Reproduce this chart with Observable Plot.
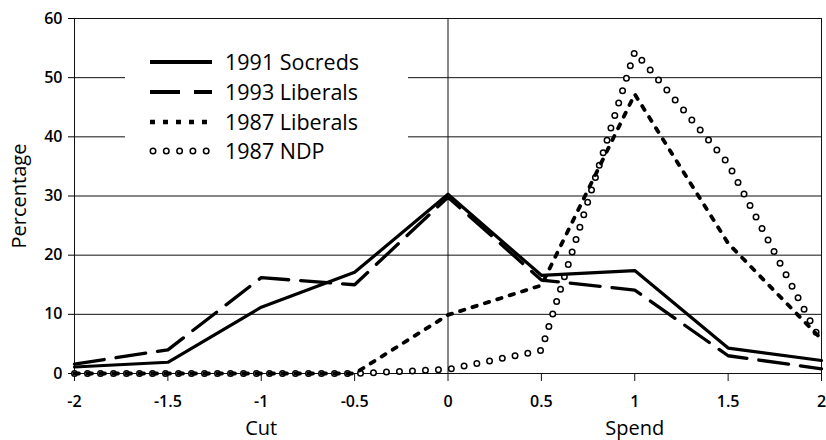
<!DOCTYPE html>
<html><head><meta charset="utf-8">
<script src="https://cdn.jsdelivr.net/npm/d3@7"></script>
<script src="https://cdn.jsdelivr.net/npm/@observablehq/plot@0.6"></script>
<style>
body{margin:0;background:#fff;}
#chart{position:relative;width:826px;height:440px;font-family:"Open Sans",sans-serif;}
#legend{position:absolute;left:125px;top:40px;}
#chart g[aria-label="x-axis tick label"] text, #chart g[aria-label="y-axis tick label"] text{font-size:16px;font-weight:600;}
</style></head>
<body><div id="chart"></div>
<script>
// ---- data ----
const positions = [-2, -1.5, -1, -0.5, 0, 0.5, 1, 1.5, 2];
const socreds1991 = [1.1, 1.9, 11.2, 17.1, 30.3, 16.6, 17.4, 4.3, 2.2];
const liberals1993 = [1.6, 4.0, 16.2, 15.0, 29.8, 15.8, 14.1, 3.0, 0.8];
const liberals1987 = [0, 0, 0, 0, 9.9, 14.9, 47.2, 22.0, 5.8];
const ndp1987 = [0, 0, 0, 0, 0.7, 3.9, 54.4, 35.5, 5.2];
const seriesNames = ["1991 Socreds", "1993 Liberals", "1987 Liberals", "1987 NDP"];
const xTicks = [-2, -1.5, -1, -0.5, 0, 0.5, 1, 1.5, 2];
const xTickLabels = ["-2", "-1.5", "-1", "-0.5", "0", "0.5", "1", "1.5", "2"];
const yTicks = [0, 10, 20, 30, 40, 50, 60];
const yTickLabels = ["0", "10", "20", "30", "40", "50", "60"];
const axisTitles = [{x: -1, label: "Cut"}, {x: 1, label: "Spend"}];
const yTitle = "Percentage";

const toRows = vals => positions.map((p, i) => ({x: p, y: vals[i]}));
const s1 = toRows(socreds1991), s2 = toRows(liberals1993), s3 = toRows(liberals1987), s4 = toRows(ndp1987);

const chart = Plot.plot({
  width: 826, height: 440,
  marginLeft: 74, marginRight: 5, marginTop: 18, marginBottom: 67,
  x: {domain: [-2, 2]},
  y: {domain: [0, 60]},
  style: {fontFamily: "'Open Sans', sans-serif", color: "#000", background: "#fff", overflow: "visible"},
  marks: [
    Plot.ruleY(yTicks, {stroke: "#111", strokeWidth: 1}),
    Plot.ruleX([-2, 0, 2], {stroke: "#111", strokeWidth: 1}),
    Plot.axisX({ticks: xTicks, tickSize: 8, tickPadding: 14, tickFormat: d => xTickLabels[xTicks.indexOf(d)], fontSize: 16, fontWeight: 600, label: null, stroke: "#111"}),
    Plot.axisY({ticks: yTicks, tickSize: 6, tickPadding: 6, tickFormat: d => yTickLabels[yTicks.indexOf(d)], fontSize: 16, fontWeight: 600, label: null}),
    Plot.text(axisTitles, {x: "x", text: "label", frameAnchor: "bottom", dy: 61, lineAnchor: "bottom", fontSize: 20}),
    Plot.text([yTitle], {text: d => d, frameAnchor: "left", textAnchor: "middle", rotate: -90, dx: -49, lineAnchor: "bottom", fontSize: 20}),
    // 1987 NDP: ring markers along the line
    Plot.line(s4, {x: "x", y: "y", stroke: "#000", strokeWidth: 7, strokeDasharray: "0 13", strokeLinecap: "round", strokeLinejoin: "round"}),
    Plot.line(s4, {x: "x", y: "y", stroke: "#fff", strokeWidth: 4, strokeDasharray: "0 13", strokeLinecap: "round", strokeLinejoin: "round"}),
    // 1987 Liberals dotted
    Plot.line(s3, {x: "x", y: "y", stroke: "#000", strokeWidth: 3.8, strokeDasharray: "4.5 8.5"}),
    // 1993 Liberals dashed
    Plot.line(s2, {x: "x", y: "y", stroke: "#000", strokeWidth: 3.3, strokeDasharray: "30 12"}),
    // 1991 Socreds solid
    Plot.line(s1, {x: "x", y: "y", stroke: "#000", strokeWidth: 3.2})
  ]
});
document.getElementById("chart").appendChild(chart);

// ---- legend overlay ----
const lg = d3.select("#chart").append("svg").attr("id", "legend")
  .attr("width", 283).attr("height", 125);
lg.append("rect").attr("width", 283).attr("height", 125).attr("fill", "#fff");
const rowY = [22, 52, 82, 111];
const swatch = [
  [{sw: 4, dash: null, cap: "butt", color: "#000"}],
  [{sw: 4, dash: "30 14", cap: "butt", color: "#000"}],
  [{sw: 4.5, dash: "5 8", cap: "butt", color: "#000"}],
  [{sw: 7, dash: "0 13.3", cap: "round", color: "#000", x0: 28, x1: 82}, {sw: 4, dash: "0 13.3", cap: "round", color: "#fff", x0: 28, x1: 82}]
];
seriesNames.forEach((name, i) => {
  swatch[i].forEach(s => {
    lg.append("line").attr("x1", s.x0 ?? 25).attr("x2", s.x1 ?? 87)
      .attr("y1", rowY[i]).attr("y2", rowY[i])
      .attr("stroke", s.color).attr("stroke-width", s.sw)
      .attr("stroke-dasharray", s.dash).attr("stroke-linecap", s.cap);
  });
  lg.append("text").attr("x", 100).attr("y", rowY[i] + 7.5)
    .attr("font-family", "'Open Sans', sans-serif").attr("font-size", 21.5)
    .attr("fill", "#000").text(name);
});
</script></body></html>
